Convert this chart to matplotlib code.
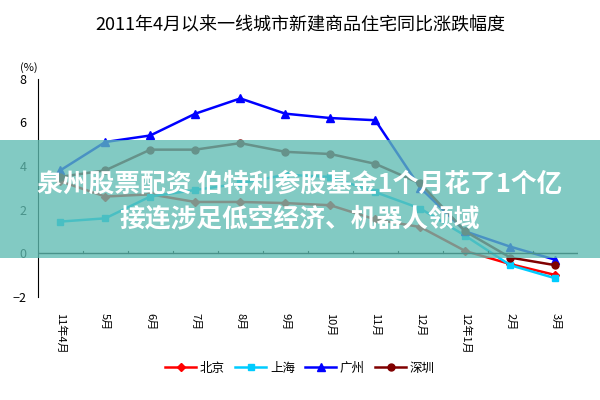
import matplotlib
matplotlib.use("Agg")
import matplotlib.pyplot as plt
from matplotlib.patches import Rectangle

plt.rcParams['font.family'] = ['Noto Sans CJK SC', 'DejaVu Sans']

months = ["11年4月", "5月", "6月", "7月", "8月", "9月", "10月", "11月", "12月", "12年1月", "2月", "3月"]
beijing = [3.3, 2.6, 2.7, 2.35, 2.35, 2.3, 2.2, 1.55, 1.2, 0.1, -0.5, -1.0]
shanghai = [1.45, 1.6, 2.6, 2.9, 3.2, 3.6, 3.5, 2.8, 2.05, 0.8, -0.55, -1.15]
guangzhou = [3.8, 5.1, 5.4, 6.4, 7.1, 6.4, 6.2, 6.1, 3.0, 1.0, 0.3, -0.3]
shenzhen = [3.5, 3.8, 4.75, 4.75, 5.05, 4.65, 4.55, 4.1, 3.2, 1.0, -0.2, -0.55]

fig = plt.figure(figsize=(6, 4), dpi=100)
ax = fig.add_axes([0.063, 0.258, 0.9, 0.545])
x = list(range(len(months)))
ax.plot(x, beijing, color='#ff0000', marker='D', ms=4, lw=1.8, label='北京')
ax.plot(x, shanghai, color='#00ccff', marker='s', ms=5, lw=1.8, label='上海')
ax.plot(x, guangzhou, color='#0000ff', marker='^', ms=6, lw=1.8, label='广州')
ax.plot(x, shenzhen, color='#800000', marker='o', ms=5, lw=1.8, label='深圳')

ax.set_xlim(-0.5, 11.5)
ax.set_ylim(-2, 8)
ax.set_yticks([-2, 0, 2, 4, 6, 8])
ax.tick_params(axis='y', labelsize=9, length=0, pad=8)
for s in ['top', 'right', 'bottom']:
    ax.spines[s].set_visible(False)
ax.axhline(0, color='black', lw=1)
for b in [i + 0.5 for i in range(-1, 12)]:
    ax.plot([b, b], [0, 0.12], color='black', lw=0.8)
ax.set_xticks(x)
ax.set_xticklabels(months, rotation=-90, fontsize=8)
ax.tick_params(axis='x', length=0, pad=12)
ax.text(-0.7, 8.35, '(%)', fontsize=8, ha='center')

fig.text(0.5, 0.925, '2011年4月以来一线城市新建商品住宅同比涨跌幅度', ha='center', fontsize=13)
fig.legend(loc='lower center', bbox_to_anchor=(0.5, 0.035), ncol=4, frameon=False,
           fontsize=9, handlelength=2.5, columnspacing=0.8, handletextpad=0.3)

fig.patches.append(Rectangle((0, 0.355), 1, 0.295, transform=fig.transFigure,
                             facecolor='#5fbcb2', alpha=0.78, edgecolor='none', zorder=10))
fig.text(0.5, 0.54, '泉州股票配资 伯特利参股基金1个月花了1个亿', ha='center', va='center',
         color='white', fontsize=18.5, fontweight='bold', zorder=11)
fig.text(0.5, 0.45, '接连涉足低空经济、机器人领域', ha='center', va='center',
         color='white', fontsize=18.5, fontweight='bold', zorder=11)

fig.savefig('out.png', dpi=100)
